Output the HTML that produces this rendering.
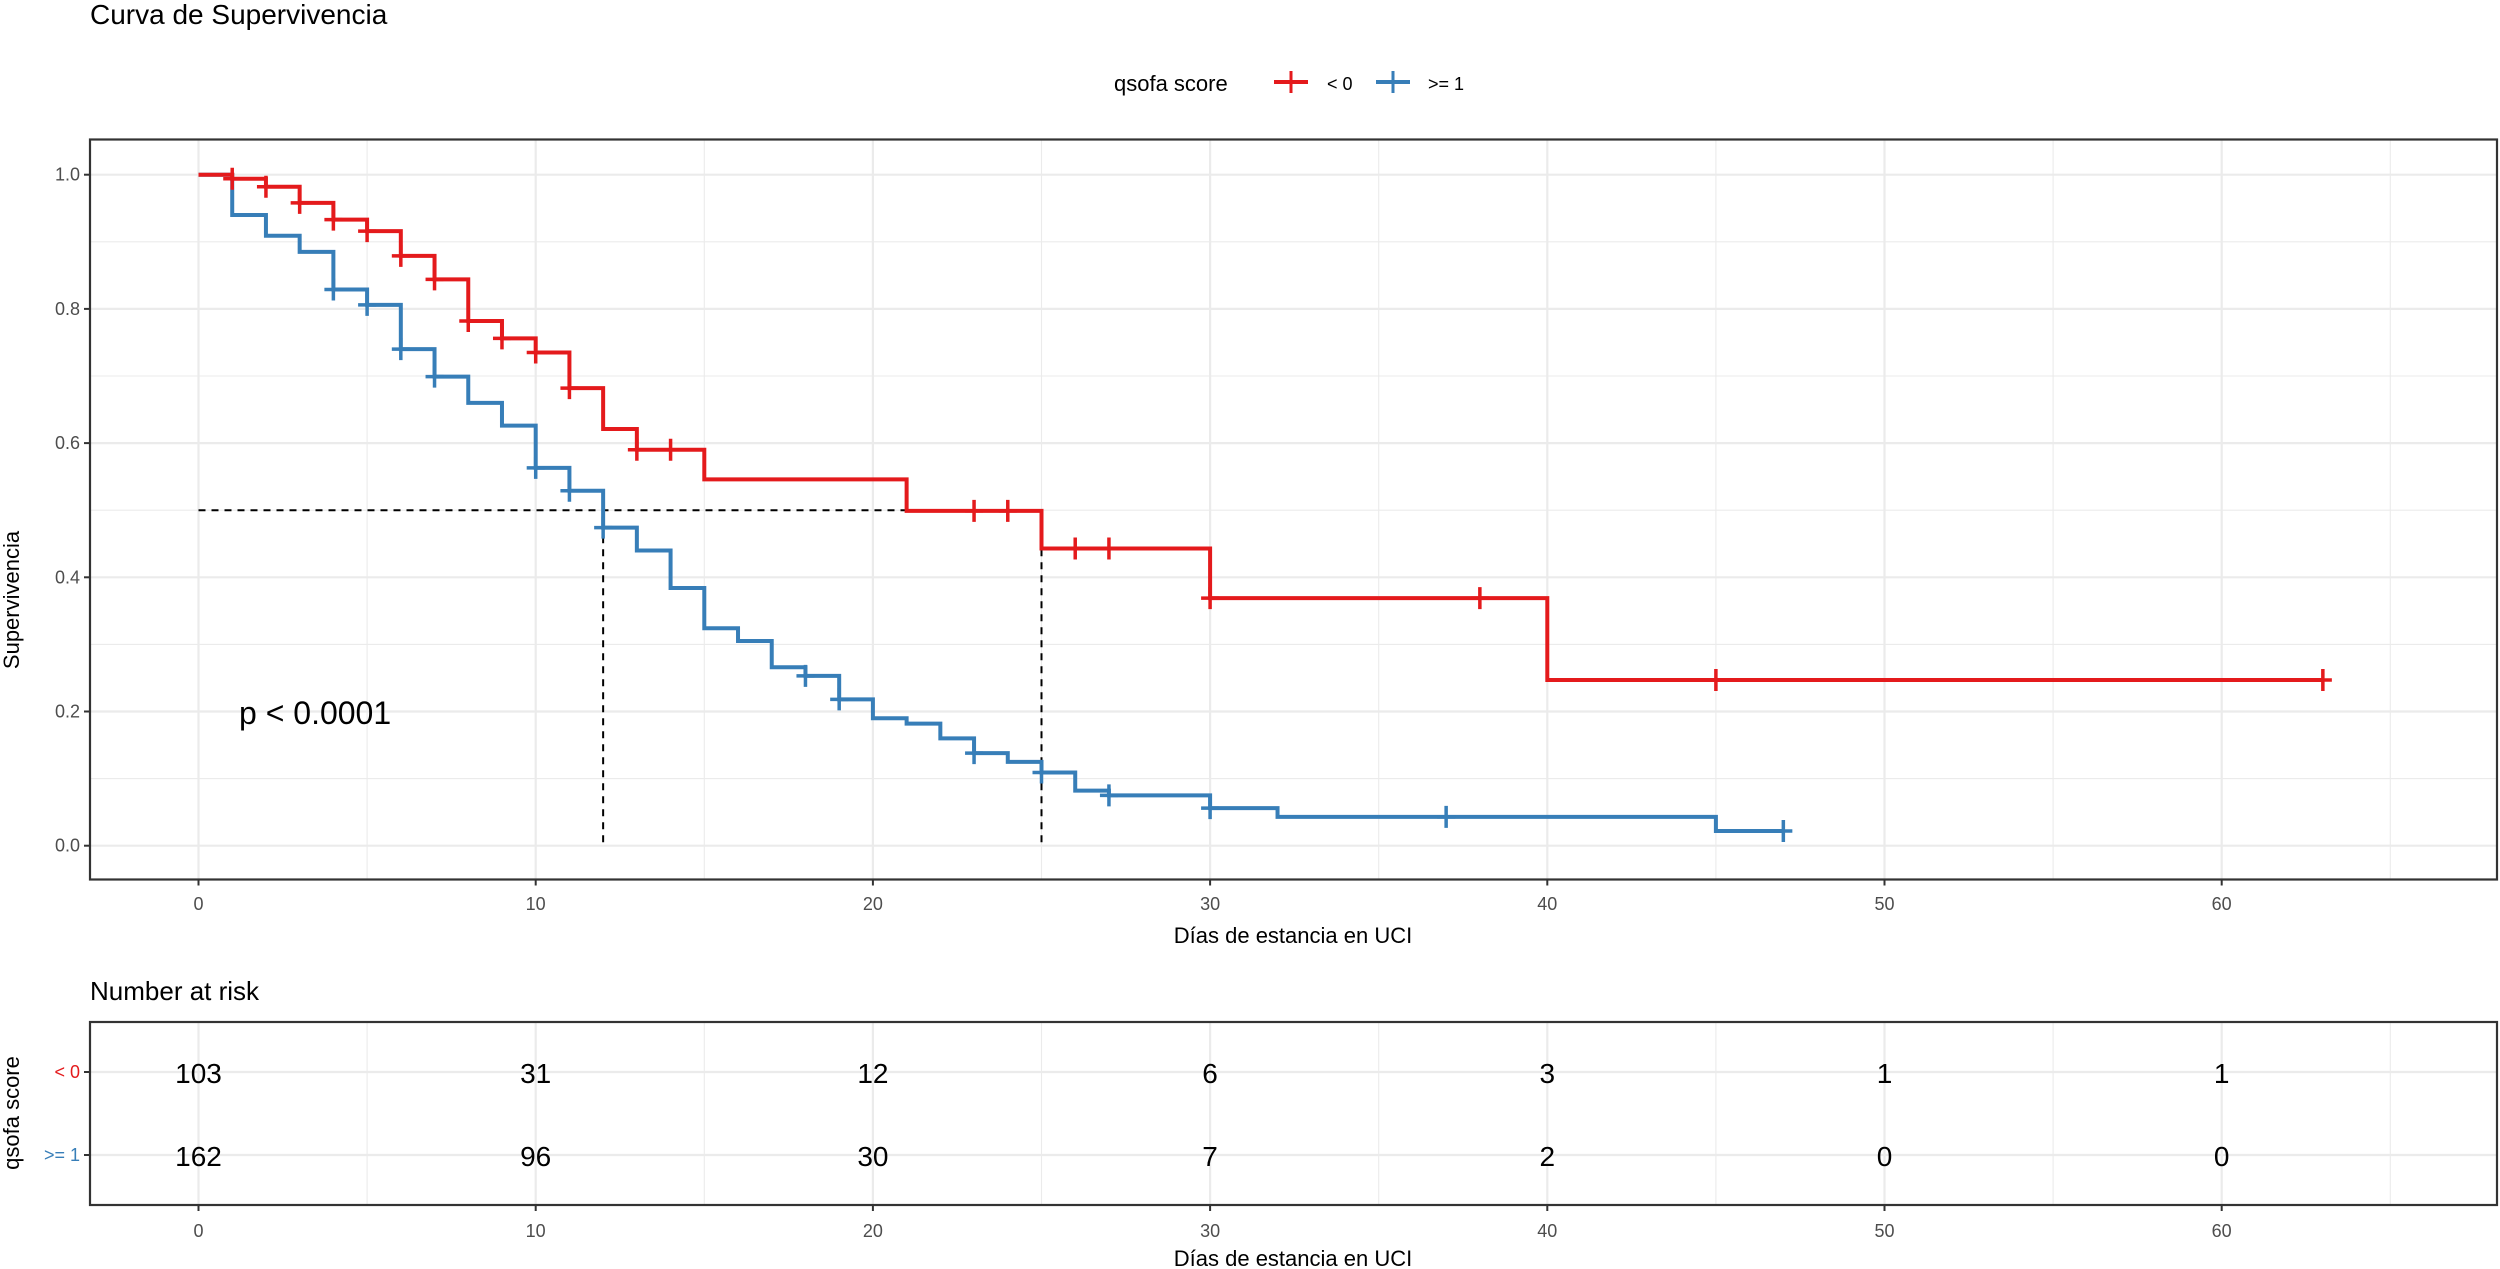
<!DOCTYPE html>
<html><head><meta charset="utf-8"><style>
html,body{margin:0;padding:0;background:#fff}
svg{display:block;font-family:"Liberation Sans",Arial,sans-serif}
</style></head><body>
<svg id="chart" width="2500" height="1269" viewBox="0 0 2500 1269" xmlns="http://www.w3.org/2000/svg">
<text x="90" y="24" font-size="28" fill="#000">Curva de Supervivencia</text>
<g>
<text x="1114" y="91" font-size="22" fill="#000">qsofa score</text>
<g>
<line x1="1274" y1="82" x2="1308" y2="82" stroke="#E41A1C" stroke-width="4"/><line x1="1291" y1="71" x2="1291" y2="93" stroke="#E41A1C" stroke-width="3"/>
<text x="1327" y="90" font-size="18" fill="#000">&lt; 0</text></g>
<g>
<line x1="1376" y1="82" x2="1410" y2="82" stroke="#377EB8" stroke-width="4"/><line x1="1393" y1="71" x2="1393" y2="93" stroke="#377EB8" stroke-width="3"/>
<text x="1428" y="90" font-size="18" fill="#000">&gt;= 1</text></g>
</g>
<g id="main"></g>
<text x="0" y="0" transform="translate(19,600) rotate(-90)" text-anchor="middle" font-size="22" fill="#000">Supervivencia</text>
<text x="1293" y="943" text-anchor="middle" font-size="22" fill="#000">Días de estancia en UCI</text>
<text x="90" y="1000" font-size="26" fill="#000">Number at risk</text>
<g id="risk"></g>
<text x="0" y="0" transform="translate(19,1113) rotate(-90)" text-anchor="middle" font-size="22" fill="#000">qsofa score</text>
<text x="1293" y="1266" text-anchor="middle" font-size="22" fill="#000">Días de estancia en UCI</text>
</svg>
<script>
const xTicks = [0,10,20,30,40,50,60];
const yTicks = [0,0.2,0.4,0.6,0.8,1.0];
const yTickLabels = ["0.0","0.2","0.4","0.6","0.8","1.0"];
const redTimes = [0,1,2,3,4,5,6,7,8,9,10,11,12,13,15,21,25,30,40,63];
const redSurv  = [1,0.994,0.982,0.958,0.933,0.916,0.879,0.844,0.782,0.756,0.735,0.682,0.621,0.590,0.546,0.499,0.443,0.369,0.247,0.247];
const redCensor = [1,2,3,4,5,6,7,8,9,10,11,13,14,23,24,26,27,30,38,45,63];
const blueTimes = [0,1,2,3,4,5,6,7,8,9,10,11,12,13,14,15,16,17,18,19,20,21,22,23,24,25,26,27,30,32,45,47];
const blueSurv  = [1,0.940,0.909,0.885,0.829,0.806,0.740,0.699,0.660,0.626,0.563,0.529,0.474,0.440,0.384,0.324,0.305,0.266,0.253,0.218,0.190,0.182,0.160,0.138,0.125,0.109,0.082,0.075,0.056,0.043,0.022,0.022];
const blueCensor = [4,5,6,7,10,11,12,18,19,23,25,27,30,37,47];
const medians = [12,25];
const riskTimes = [0,10,20,30,40,50,60];
const riskRed = [103,31,12,6,3,1,1];
const riskBlue = [162,96,30,7,2,0,0];

const NS="http://www.w3.org/2000/svg";
const L=90,R=2497;
const X=d=>198.5+d*33.72;
const T=145,B=879.5;
const Y=v=>845.7-v*671;
function mk(p,tag,a){const e=document.createElementNS(NS,tag);for(const k in a)e.setAttribute(k,a[k]);p.appendChild(e);return e;}
const main=document.getElementById('main');
// grid
for(let d=-5;d<=70;d+=5){const x=X(d);if(x<L||x>R)continue;const g=mk(main,'line',{x1:x,x2:x,y1:T-5,y2:B,stroke:'#ebebeb','stroke-width':d%10===0?2.2:1.1});

}
for(let v=0;v<=1.001;v+=0.1){const y=Y(v);const g=mk(main,'line',{x1:L,x2:R,y1:y,y2:y,stroke:'#ebebeb','stroke-width':Math.round(v*10)%2===0?2.2:1.1});

}
// medians
const mv=Math.max(...medians);
let ml=mk(main,'line',{x1:X(0),x2:X(mv),y1:Y(0.5),y2:Y(0.5),stroke:'#000','stroke-width':2,'stroke-dasharray':'7,6'});


medians.forEach(m=>{const l=mk(main,'line',{x1:X(m),x2:X(m),y1:Y(0.5),y2:Y(0),stroke:'#000','stroke-width':2,'stroke-dasharray':'7,6'});

});
function stepPath(t,s){let d=`M${X(t[0])},${Y(s[0])}`;for(let i=1;i<t.length;i++){d+=`H${X(t[i])}V${Y(s[i])}`;}return d;}
function survAt(t,s,c){let v=s[0];for(let i=0;i<t.length;i++){if(t[i]<=c)v=s[i];}return v;}
function curve(t,s,cens,col,name){
 const p=mk(main,'path',{d:stepPath(t,s),fill:'none',stroke:col,'stroke-width':4});
 
 
 cens.forEach(c=>{const x=X(c),y=Y(survAt(t,s,c));
  const g=mk(main,'path',{d:`M${x-9},${y}H${x+9}M${x},${y-11}V${y+11}`,stroke:col,'stroke-width':3.5});
  
  });
}
curve(blueTimes,blueSurv,blueCensor,'#377EB8','ge1');
curve(redTimes,redSurv,redCensor,'#E41A1C','lt0');
let pt=mk(main,'text',{x:239,y:724,'font-size':32,fill:'#000'});pt.textContent='p < 0.0001';


let fr=mk(main,'rect',{x:L,y:T-5.5,width:R-L,height:B-T+5.5,fill:'none',stroke:'#333','stroke-width':2.2});


xTicks.forEach(d=>{const x=X(d);mk(main,'line',{x1:x,x2:x,y1:B,y2:B+6,stroke:'#333','stroke-width':2});
 const t=mk(main,'text',{x:x,y:910,'text-anchor':'middle','font-size':18,fill:'#4d4d4d'});t.textContent=d;
 
 });
yTicks.forEach((v,i)=>{const y=Y(v);mk(main,'line',{x1:L-6,x2:L,y1:y,y2:y,stroke:'#333','stroke-width':2});
 const t=mk(main,'text',{x:L-10,y:y+6,'text-anchor':'end','font-size':18,fill:'#4d4d4d'});t.textContent=yTickLabels[i];
 
 });
// risk table
const risk=document.getElementById('risk');
const RT=1022,RB=1205,r1=1072,r2=1155;
for(let d=-5;d<=70;d+=5){const x=X(d);if(x<L||x>R)continue;mk(risk,'line',{x1:x,x2:x,y1:RT,y2:RB,stroke:'#ebebeb','stroke-width':d%10===0?2.2:1.1});}
[r1,r2].forEach(y=>mk(risk,'line',{x1:L,x2:R,y1:y,y2:y,stroke:'#ebebeb','stroke-width':2.2}));
riskTimes.forEach((d,i)=>{
 const a=mk(risk,'text',{x:X(d),y:r1+11,'text-anchor':'middle','font-size':28,fill:'#000'});a.textContent=riskRed[i];
 
 
 const b=mk(risk,'text',{x:X(d),y:r2+11,'text-anchor':'middle','font-size':28,fill:'#000'});b.textContent=riskBlue[i];
 
 
 mk(risk,'line',{x1:X(d),x2:X(d),y1:RB,y2:RB+6,stroke:'#333','stroke-width':2});
 const t=mk(risk,'text',{x:X(d),y:1237,'text-anchor':'middle','font-size':18,fill:'#4d4d4d'});t.textContent=d;
 
 
});
let rf=mk(risk,'rect',{x:L,y:RT,width:R-L,height:RB-RT,fill:'none',stroke:'#333','stroke-width':2.2});


[[r1,'< 0','#E41A1C'],[r2,'>= 1','#377EB8']].forEach(([y,s,c])=>{mk(risk,'line',{x1:L-6,x2:L,y1:y,y2:y,stroke:'#333','stroke-width':2});
 const t=mk(risk,'text',{x:L-10,y:y+6,'text-anchor':'end','font-size':18,fill:c});t.textContent=s;
 
 });
</script>
</body></html>
